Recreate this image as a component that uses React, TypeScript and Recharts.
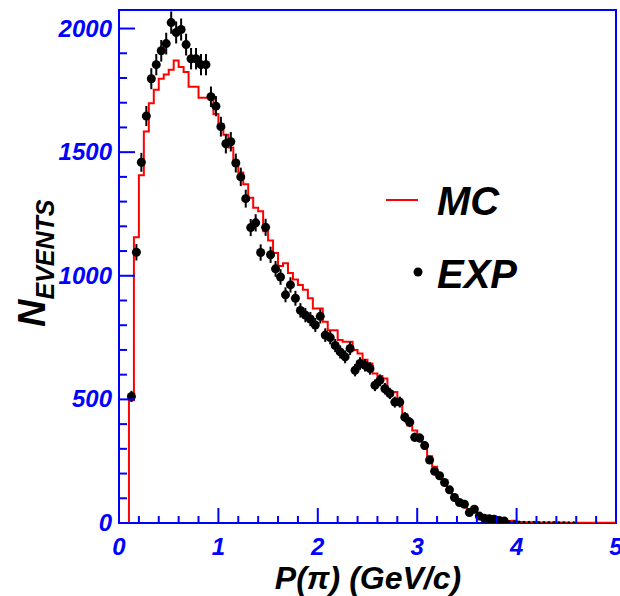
import React from "react";
import { ComposedChart, Line, Scatter, ErrorBar, XAxis, YAxis, ReferenceArea } from "recharts";

const BLUE = "#0000ff";
const FONT = "'Liberation Sans', Arial, sans-serif";

// histogram bins, width 0.05 GeV/c, first edge at 0
const BIN_WIDTH = 0.05;
const MC_COUNTS = [
  0, 0, 496, 1156, 1407, 1584, 1698, 1752, 1797, 1814,
  1833, 1871, 1844, 1824, 1765, 1765, 1720, 1720, 1729, 1654,
  1614, 1570, 1519, 1465, 1418, 1370, 1316, 1275, 1261, 1180,
  1143, 1092, 1040, 1051, 1011, 985, 963, 943, 909, 868,
  868, 814, 780, 780, 740, 733, 733, 700, 686, 660,
  645, 605, 595, 584, 530, 530, 489, 440, 394, 374,
  347, 320, 270, 228, 195, 165, 135, 110, 88, 72,
  55, 42, 32, 24, 18, 13, 10, 8, 8, 9,
  4, 3, 3, 3, 2, 2, 2, 2, 2, 2,
  1, 1, 1, 1, 1, 1, 1, 1, 1, 1,
];

// data points at bin centres, first centre 0.125
const EXP_START = 0.125;
const EXP_COUNTS = [
  512, 1095, 1459, 1646, 1797, 1854, 1910, 1939, 2024, 1984,
  1996, 1935, 1878, 1878, 1854, 1854, 1724, 1686, 1603, 1534,
  1542, 1456, 1400, 1312, 1195, 1214, 1094, 1196, 1085, 1028,
  995, 923, 963, 909, 860, 841, 825, 801, 836, 760,
  750, 718, 692, 672, 706, 618, 645, 638, 625, 557,
  577, 543, 524, 489, 489, 428, 408, 347, 344, 313,
  255, 209, 191, 164, 134, 103, 83, 76, 42, 56,
  28, 19, 17, 15, 10, 8, 6, 6, 4, 3,
  3, 3, 2, 2, 2, 2, 1, 1, 1, 1,
];

const Y_TICKS = [0, 100, 200, 300, 400, 500, 600, 700, 800, 900, 1000, 1100, 1200, 1300, 1400, 1500, 1600, 1700, 1800, 1900, 2000];
const X_TICKS = [0, 0.2, 0.4, 0.6, 0.8, 1, 1.2, 1.4, 1.6, 1.8, 2, 2.2, 2.4, 2.6, 2.8, 3, 3.2, 3.4, 3.6, 3.8, 4, 4.2, 4.4, 4.6, 4.8, 5];

const mcData = MC_COUNTS.map((v, i) => ({ x: +(i * BIN_WIDTH).toFixed(2), mc: v }));
mcData.push({ x: 5, mc: MC_COUNTS[MC_COUNTS.length - 1] });

const expData = EXP_COUNTS.map((v, i) => ({
  x: +(EXP_START + i * BIN_WIDTH).toFixed(3),
  exp: v,
  err: Math.sqrt(v),
}));

const isMajor = (v: number) => Math.abs(v - Math.round(v)) < 1e-6;

function YTick({ x, y, payload }: any) {
  const major = payload.value % 500 === 0;
  return (
    <g>
      <line x1={x} y1={y} x2={x + (major ? 16 : 8)} y2={y} stroke={BLUE} strokeWidth={2} />
      {major && (
        <text x={x - 7} y={y + 8} textAnchor="end" fill={BLUE} fontSize={24} fontWeight="bold" fontStyle="italic" fontFamily={FONT}>
          {payload.value}
        </text>
      )}
    </g>
  );
}

function XTick({ x, y, payload }: any) {
  const major = isMajor(payload.value);
  return (
    <g>
      <line x1={x} y1={y} x2={x} y2={y - (major ? 15 : 7)} stroke={BLUE} strokeWidth={2} />
      {major && (
        <text x={x} y={y + 32} textAnchor="middle" fill={BLUE} fontSize={24} fontWeight="bold" fontStyle="italic" fontFamily={FONT}>
          {Math.round(payload.value)}
        </text>
      )}
    </g>
  );
}

const yTitle = () => (
  <text transform="translate(45,327) rotate(-90)" fill="#000" fontWeight="bold" fontStyle="italic" fontFamily={FONT}>
    <tspan fontSize={38}>N</tspan>
    <tspan fontSize={25} dy={9}>EVENTS</tspan>
  </text>
);

const xTitle = () => (
  <text x={368} y={589} textAnchor="middle" fill="#000" fontSize={32} fontWeight="bold" fontStyle="italic" fontFamily={FONT}>
    P(π) (GeV/c)
  </text>
);

function Dot(p: any) {
  return <circle cx={p.cx} cy={p.cy} r={p.payload.exp < 8 ? 1.5 : 4.5} fill="#000" />;
}

export default function App() {
  return (
    <div style={{ position: "absolute", left: 0, top: 0, width: 620, height: 596, background: "#fff" }}>
      <ComposedChart width={620} height={596} margin={{ top: 10, right: 4, bottom: 0, left: 0 }}>
        <XAxis
          dataKey="x"
          type="number"
          domain={[0, 5]}
          ticks={X_TICKS}
          interval={0}
          height={73}
          tickSize={0}
          tickMargin={0}
          tickLine={false}
          axisLine={false}
          tick={<XTick />}
          label={xTitle}
        />
        <YAxis
          type="number"
          domain={[0, 2075]}
          ticks={Y_TICKS}
          interval={0}
          width={119}
          tickSize={0}
          tickMargin={0}
          tickLine={false}
          axisLine={false}
          tick={<YTick />}
          label={yTitle}
          allowDataOverflow
        />
        <ReferenceArea x1={0} x2={5} y1={0} y2={2075} fill="none" stroke={BLUE} strokeWidth={2} />
        <Line
          data={mcData}
          dataKey="mc"
          type="stepAfter"
          stroke="#ff0000"
          strokeWidth={2}
          dot={false}
          isAnimationActive={false}
        />
        <Scatter data={expData} dataKey="exp" fill="#000" shape={<Dot />} isAnimationActive={false}>
          <ErrorBar dataKey="err" direction="y" width={0} stroke="#000" strokeWidth={2} />
        </Scatter>
      </ComposedChart>
      <svg width={620} height={596} style={{ position: "absolute", left: 0, top: 0, pointerEvents: "none" }}>
        <line x1={386} y1={200} x2={418} y2={200} stroke="#ff0000" strokeWidth={2} />
        <text x={437} y={215} fill="#000" fontSize={40} fontWeight="bold" fontStyle="italic" fontFamily={FONT}>MC</text>
        <circle cx={418} cy={272} r={4.5} fill="#000" />
        <text x={437} y={288} fill="#000" fontSize={40} fontWeight="bold" fontStyle="italic" fontFamily={FONT}>EXP</text>
      </svg>
    </div>
  );
}
